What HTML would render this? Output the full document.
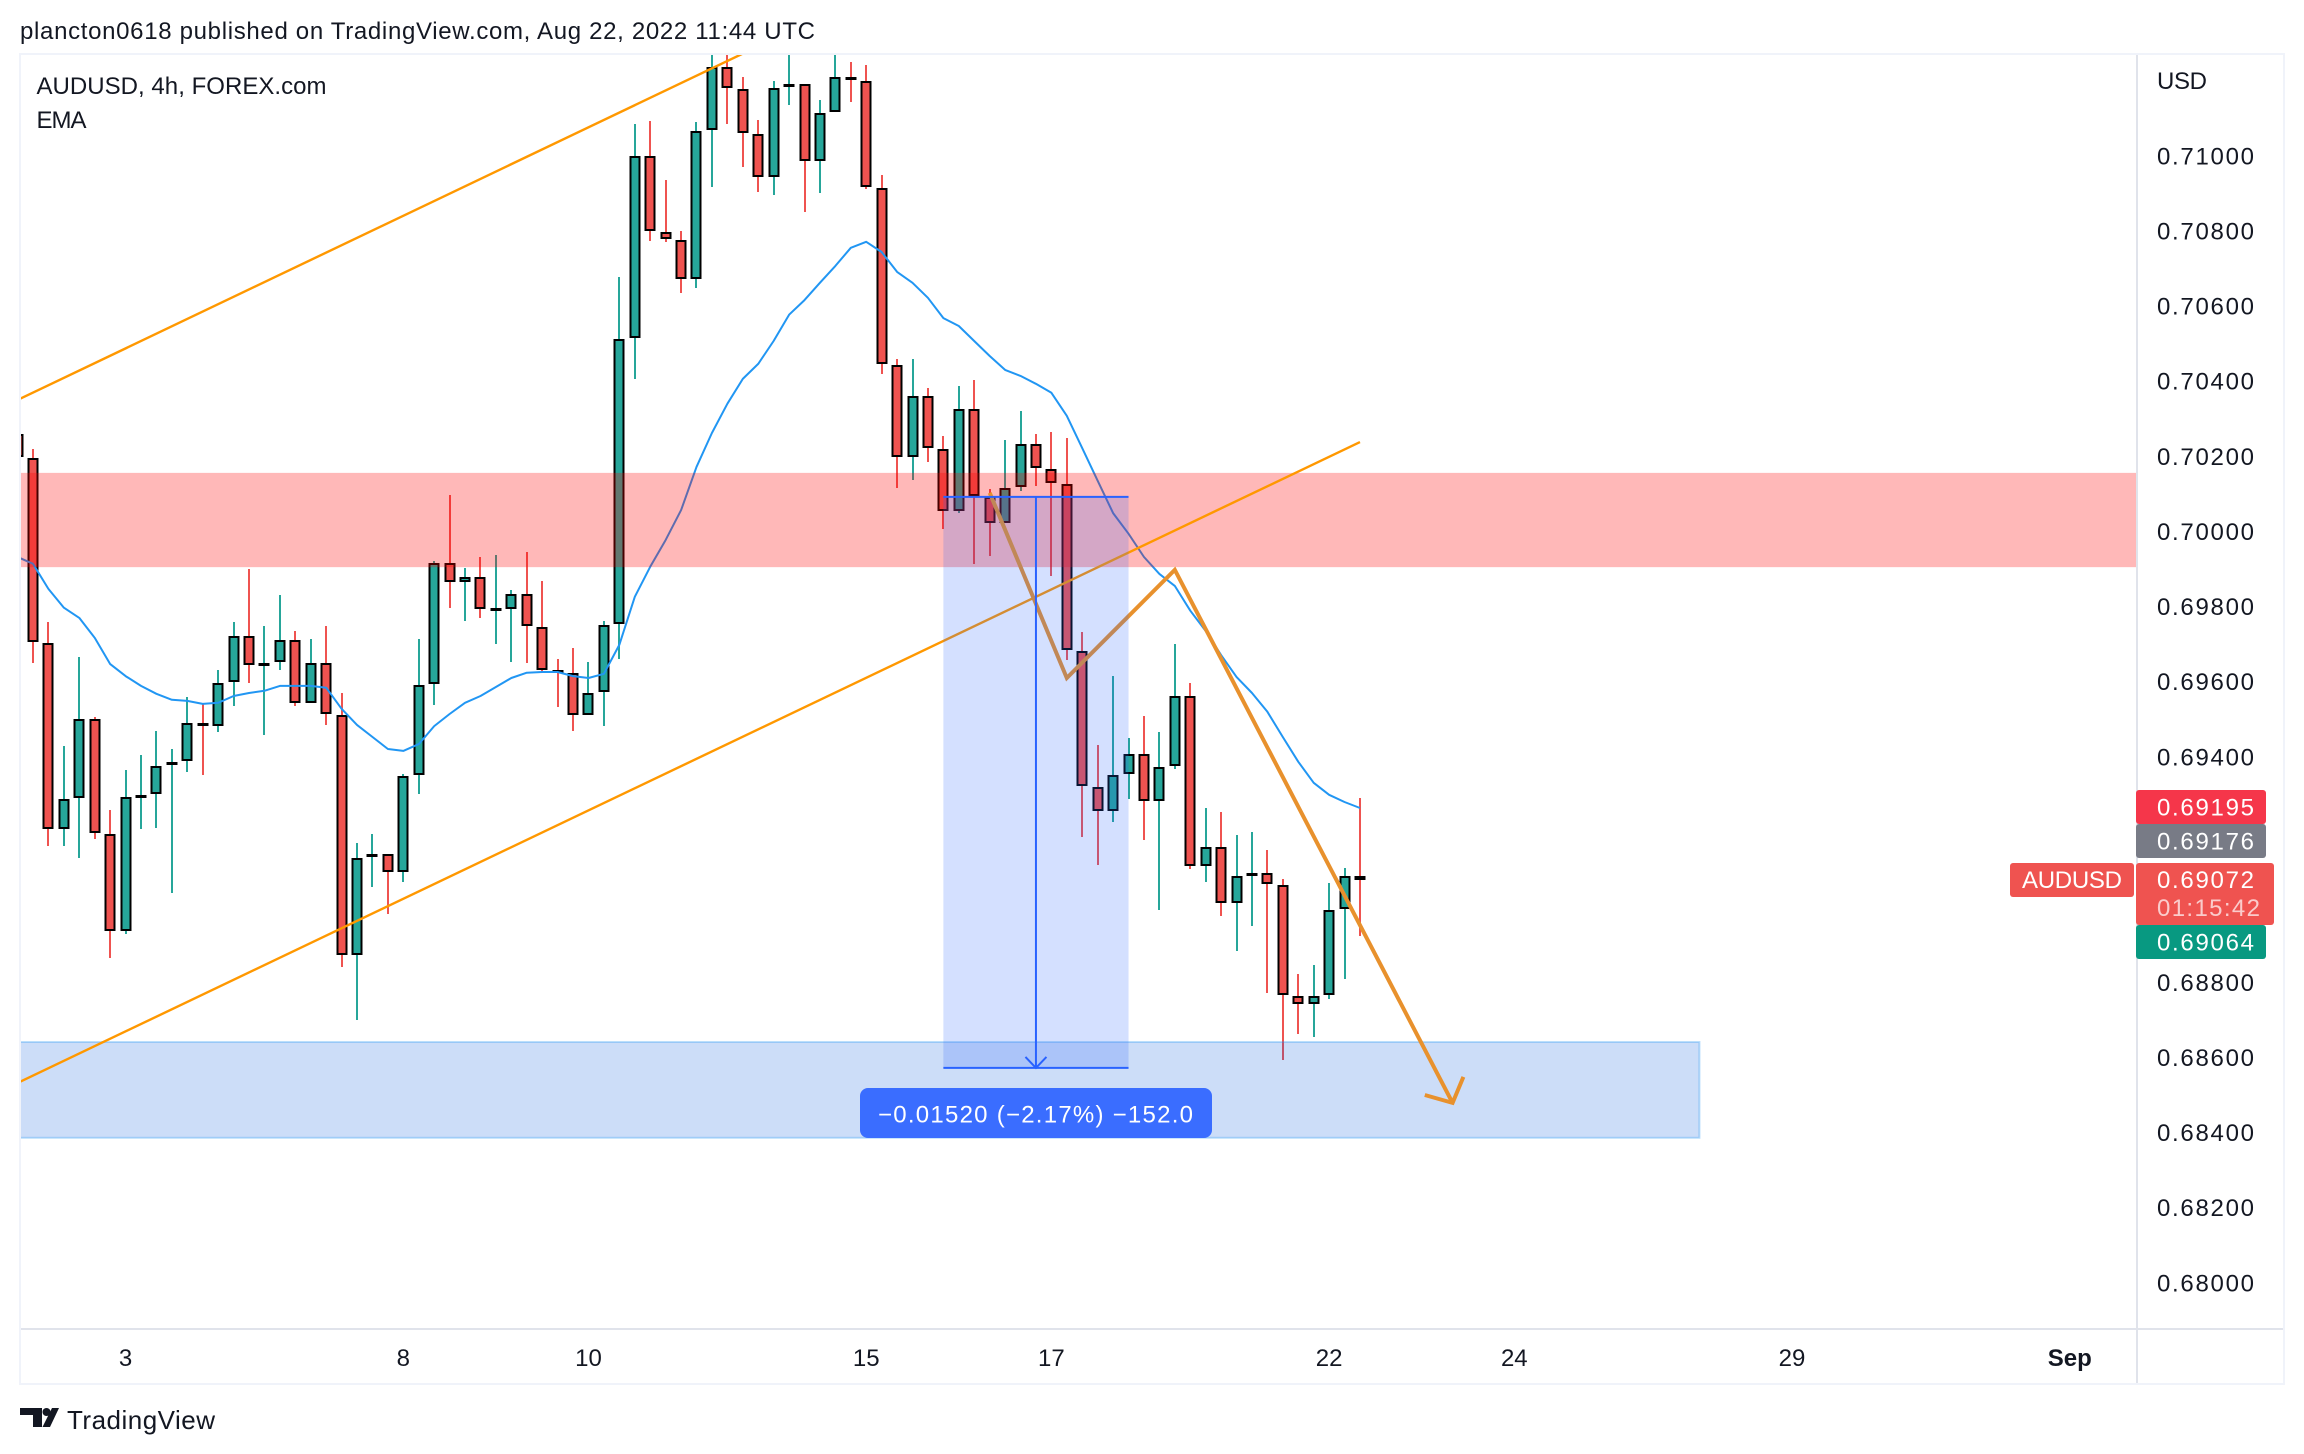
<!DOCTYPE html>
<html lang="en">
<head>
<meta charset="utf-8">
<title>AUDUSD 4h chart</title>
<style>
html,body{margin:0;padding:0;background:#fff;width:2304px;height:1454px;overflow:hidden}
svg{display:block}
text{font-family:"Liberation Sans",sans-serif;fill:#131722}
</style>
</head>
<body>
<svg id="chart" xmlns="http://www.w3.org/2000/svg" width="2304" height="1454" viewBox="0 0 2304 1454">
  <defs>
    <clipPath id="plot-clip"><rect x="21" y="55" width="2115" height="1273"/></clipPath>
  </defs>
  <rect x="0" y="0" width="2304" height="1454" fill="#ffffff"/>
  <text x="20" y="39" font-size="24" textLength="795" lengthAdjust="spacing">plancton0618 published on TradingView.com, Aug 22, 2022 11:44 UTC</text>
  <rect x="20" y="54" width="2264" height="1330" fill="#ffffff" stroke="#f0f3fa" stroke-width="2"/>
  <g id="plot" clip-path="url(#plot-clip)">
    <g id="candles"></g>
    <polyline id="ema" fill="none" stroke="#2196f3" stroke-width="2" stroke-linejoin="round"/>
    <rect id="resistance" fill="rgba(255,0,0,0.28)"/>
    <rect id="support" fill="rgba(0,85,220,0.2)" stroke="rgba(33,150,243,0.3)" stroke-width="2"/>
    <line id="trend-upper" stroke="#ff9800" stroke-width="2.4"/>
    <line id="trend-lower" stroke="#ff9800" stroke-width="2.4"/>
    <polyline id="path-main" fill="none" stroke="#e8912d" stroke-width="4" stroke-linejoin="miter"/>
    <polyline id="path-head" fill="none" stroke="#e8912d" stroke-width="4" stroke-linejoin="miter"/>
    <rect id="pos-box" fill="rgba(41,98,255,0.2)"/>
    <line id="pos-top" stroke="#2962ff" stroke-width="2"/>
    <line id="pos-bottom" stroke="#2962ff" stroke-width="2"/>
    <line id="pos-stem" stroke="#2962ff" stroke-width="2"/>
    <polyline id="pos-head" fill="none" stroke="#2962ff" stroke-width="2"/>
  </g>
  <g>
    <rect x="860" y="1088" width="352" height="50" rx="8" fill="#3a6dff"/>
    <text x="878" y="1122.5" font-size="24" textLength="315" lengthAdjust="spacing" style="fill:#ffffff">−0.01520 (−2.17%) −152.0</text>
  </g>
  <g>
    <text x="36.5" y="94" font-size="24" textLength="290" lengthAdjust="spacing">AUDUSD, 4h, FOREX.com</text>
    <text x="36.5" y="128" font-size="24" textLength="50" lengthAdjust="spacing">EMA</text>
  </g>
  <line x1="2137" y1="55" x2="2137" y2="1383" stroke="#e0e3eb" stroke-width="2"/>
  <line x1="21" y1="1329" x2="2283" y2="1329" stroke="#e0e3eb" stroke-width="2"/>
  <text x="2157" y="89" font-size="24" textLength="50" lengthAdjust="spacing">USD</text>
  <g id="price-ticks"></g>
  <g id="time-ticks"></g>
  <g>
    <rect x="2136" y="790" width="130" height="34" rx="3" fill="#f5364a"/>
    <text x="2157" y="815.5" font-size="24" textLength="97" lengthAdjust="spacing" style="fill:#ffffff">0.69195</text>
    <rect x="2136" y="824" width="130" height="34" rx="3" fill="#787b86"/>
    <text x="2157" y="849.5" font-size="24" textLength="97" lengthAdjust="spacing" style="fill:#ffffff">0.69176</text>
    <rect x="2136" y="863" width="138" height="62" rx="3" fill="#ef5350"/>
    <text x="2157" y="888" font-size="24" textLength="97" lengthAdjust="spacing" style="fill:#ffffff">0.69072</text>
    <text x="2157" y="916" font-size="24" textLength="103" lengthAdjust="spacing" style="fill:rgba(255,255,255,0.7)">01:15:42</text>
    <rect x="2136" y="925" width="130" height="34" rx="3" fill="#089981"/>
    <text x="2157" y="950.5" font-size="24" textLength="97" lengthAdjust="spacing" style="fill:#ffffff">0.69064</text>
    <rect x="2010" y="863" width="124" height="34" rx="3" fill="#ef5350"/>
    <text x="2022" y="888" font-size="24" textLength="100" lengthAdjust="spacing" style="fill:#ffffff">AUDUSD</text>
  </g>
  <g>
    <path fill="#131722" d="M20 1408H42V1427H33V1415H20Z M52 1408H59L50 1427H42.5Z"/>
    <circle cx="46.5" cy="1412" r="4" fill="#131722"/>
    <text x="67" y="1429" font-size="26" textLength="148" lengthAdjust="spacing">TradingView</text>
  </g>
</svg>
<script>
// Candle data; the first entry is bar -1, partly clipped at the left edge.
const firstBar = -1;
const opens = [0.70260,0.70196,0.69703,0.69208,0.69291,0.69501,0.69195,0.68937,0.69296,0.69301,0.69379,0.69389,0.69490,0.69482,0.69600,0.69722,0.69645,0.69653,0.69711,0.69544,0.69650,0.69512,0.68873,0.69134,0.69142,0.69094,0.69352,0.69594,0.69916,0.69866,0.69879,0.69791,0.69794,0.69834,0.69746,0.69632,0.69624,0.69512,0.69573,0.69754,0.70515,0.71000,0.70797,0.70776,0.70672,0.71069,0.71237,0.71178,0.71058,0.70944,0.71183,0.71191,0.70986,0.71117,0.71210,0.71199,0.70915,0.70443,0.70198,0.70361,0.70220,0.70055,0.70326,0.70092,0.70023,0.70119,0.70233,0.70167,0.70127,0.69682,0.69320,0.69256,0.69355,0.69408,0.69283,0.69376,0.69562,0.69110,0.69160,0.69011,0.69086,0.69091,0.69059,0.68764,0.68742,0.68766,0.68995,0.69083];
const highs = [0.70260,0.70220,0.69759,0.69429,0.69666,0.69506,0.69259,0.69365,0.69405,0.69469,0.69421,0.69560,0.69541,0.69632,0.69759,0.69900,0.69749,0.69831,0.69735,0.69714,0.69749,0.69570,0.69171,0.69195,0.69142,0.69355,0.69714,0.69922,0.70097,0.69903,0.69932,0.69938,0.69844,0.69946,0.69868,0.69661,0.69690,0.69653,0.69762,0.70678,0.71085,0.71093,0.70936,0.70800,0.71090,0.71282,0.71282,0.71210,0.71096,0.71199,0.71282,0.71191,0.71149,0.71282,0.71250,0.71242,0.70949,0.70459,0.70459,0.70382,0.70254,0.70387,0.70403,0.70113,0.70244,0.70321,0.70260,0.70265,0.70249,0.69733,0.69432,0.69615,0.69450,0.69509,0.69466,0.69701,0.69597,0.69264,0.69254,0.69192,0.69200,0.69152,0.69075,0.68822,0.68846,0.69064,0.69104,0.69291];
const lows = [0.70198,0.69650,0.69163,0.69163,0.69131,0.69182,0.68865,0.68929,0.69208,0.69211,0.69038,0.69360,0.69352,0.69466,0.69536,0.69597,0.69458,0.69632,0.69536,0.69544,0.69485,0.68841,0.68700,0.69054,0.68982,0.69067,0.69301,0.69538,0.69797,0.69762,0.69770,0.69701,0.69653,0.69650,0.69624,0.69533,0.69469,0.69512,0.69482,0.69661,0.70406,0.70774,0.70771,0.70635,0.70648,0.70917,0.71085,0.70970,0.70904,0.70896,0.71135,0.70851,0.70901,0.71117,0.71143,0.70912,0.70419,0.70116,0.70137,0.70185,0.70007,0.70049,0.69914,0.69935,0.70023,0.70108,0.70121,0.69882,0.69658,0.69187,0.69112,0.69227,0.69288,0.69179,0.68993,0.69368,0.69102,0.69067,0.68977,0.68883,0.68950,0.68772,0.68593,0.68662,0.68654,0.68756,0.68809,0.68923];
const closes = [0.70198,0.69706,0.69208,0.69288,0.69501,0.69198,0.68937,0.69293,0.69299,0.69376,0.69387,0.69490,0.69482,0.69597,0.69722,0.69645,0.69650,0.69711,0.69544,0.69650,0.69514,0.68873,0.69131,0.69142,0.69094,0.69349,0.69592,0.69916,0.69866,0.69879,0.69794,0.69797,0.69834,0.69749,0.69632,0.69626,0.69512,0.69570,0.69751,0.70513,0.71000,0.70800,0.70779,0.70672,0.71066,0.71237,0.71181,0.71061,0.70944,0.71181,0.71191,0.70986,0.71114,0.71210,0.71202,0.70917,0.70446,0.70198,0.70361,0.70222,0.70055,0.70326,0.70095,0.70023,0.70116,0.70233,0.70169,0.70129,0.69685,0.69323,0.69256,0.69352,0.69408,0.69283,0.69373,0.69562,0.69110,0.69160,0.69011,0.69083,0.69091,0.69062,0.68766,0.68742,0.68764,0.68993,0.69083,0.69072];
const emaValues = [0.69932,0.69914,0.69847,0.69797,0.69770,0.69717,0.69647,0.69615,0.69589,0.69568,0.69552,0.69549,0.69541,0.69544,0.69562,0.69570,0.69576,0.69589,0.69589,0.69589,0.69584,0.69528,0.69485,0.69453,0.69421,0.69416,0.69434,0.69482,0.69514,0.69544,0.69562,0.69586,0.69610,0.69624,0.69626,0.69626,0.69615,0.69610,0.69621,0.69698,0.69826,0.69906,0.69977,0.70057,0.70172,0.70262,0.70340,0.70406,0.70446,0.70507,0.70577,0.70616,0.70662,0.70707,0.70755,0.70771,0.70744,0.70691,0.70662,0.70622,0.70568,0.70547,0.70507,0.70467,0.70430,0.70414,0.70393,0.70369,0.70308,0.70222,0.70135,0.70049,0.69994,0.69932,0.69887,0.69855,0.69789,0.69735,0.69671,0.69613,0.69570,0.69520,0.69453,0.69387,0.69331,0.69299,0.69280,0.69264];
const priceTicks = [0.71,0.708,0.706,0.704,0.702,0.70,0.698,0.696,0.694,0.692,0.69,0.688,0.686,0.684,0.682,0.68];
const timeTickBars = [6,24,36,54,66,84,96,114,132];
const timeTickLabels = ["3","8","10","15","17","22","24","29","Sep"];
// Drawing anchors, as bar index and price.
const resistancePrices = [0.70156,0.69905];
const supportPrices = [0.68641,0.68386];
const supportBars = [-1.3,108.0];
const upperTrendBars = [-1,46];
const upperTrendPrices = [0.70350,0.71272];
const lowerTrendBars = [-1,86];
const lowerTrendPrices = [0.68532,0.70238];
const pathBars = [62,67,74,92];
const pathPrices = [0.70103,0.69610,0.69898,0.68479];
const headBars = [90.2,92,92.7];
const headPrices = [0.68500,0.68479,0.68548];
const rangeBars = [59,71,65];
const rangePrices = [0.70092,0.68572];

const svgNS = "http://www.w3.org/2000/svg";
function xScale(bar){ return 33 + 15.43 * bar; }
function yScale(price){ return 155.8 + (0.71 - price) * 37567; }
function pointsOf(bars, prices){
  return bars.map(function(b,i){ return xScale(b).toFixed(1) + "," + yScale(prices[i]).toFixed(1); }).join(" ");
}
function setRect(el, x, y, w, h){
  el.setAttribute("x", x); el.setAttribute("y", y);
  el.setAttribute("width", w); el.setAttribute("height", h);
}
function setLine(el, x1, y1, x2, y2){
  el.setAttribute("x1", x1); el.setAttribute("y1", y1);
  el.setAttribute("x2", x2); el.setAttribute("y2", y2);
}

const candleGroup = document.getElementById("candles");
opens.forEach(function(open, i){
  const bar = firstBar + i;
  const cx = Math.round(xScale(bar));
  const close = closes[i];
  const color = close >= open ? "#26a69a" : "#ef5350";
  const top = Math.round(yScale(Math.max(open, close)));
  const bottom = Math.round(yScale(Math.min(open, close)));
  const hi = Math.round(yScale(highs[i]));
  const lo = Math.round(yScale(lows[i]));

  const wick = document.createElementNS(svgNS, "rect");
  
  
  setRect(wick, cx - 1, hi, 2, Math.max(lo - hi, 1));
  wick.setAttribute("fill", color);
  candleGroup.appendChild(wick);

  const outline = document.createElementNS(svgNS, "rect");
  
  
  setRect(outline, cx - 5.5, top, 11, Math.max(bottom - top, 3));
  outline.setAttribute("fill", "#000000");
  candleGroup.appendChild(outline);

  if (bottom - top > 4) {
    const body = document.createElementNS(svgNS, "rect");
    
    
    setRect(body, cx - 3.5, top + 2, 7, bottom - top - 4);
    body.setAttribute("fill", color);
    candleGroup.appendChild(body);
  }
});

document.getElementById("ema").setAttribute("points",
  emaValues.map(function(v,i){ return xScale(firstBar + i).toFixed(1) + "," + yScale(v).toFixed(1); }).join(" "));

const res = document.getElementById("resistance");
setRect(res, 20, yScale(resistancePrices[0]), 2116, yScale(resistancePrices[1]) - yScale(resistancePrices[0]));
const sup = document.getElementById("support");
setRect(sup, xScale(supportBars[0]), yScale(supportPrices[0]), xScale(supportBars[1]) - xScale(supportBars[0]), yScale(supportPrices[1]) - yScale(supportPrices[0]));

setLine(document.getElementById("trend-upper"), xScale(upperTrendBars[0]), yScale(upperTrendPrices[0]), xScale(upperTrendBars[1]), yScale(upperTrendPrices[1]));
setLine(document.getElementById("trend-lower"), xScale(lowerTrendBars[0]), yScale(lowerTrendPrices[0]), xScale(lowerTrendBars[1]), yScale(lowerTrendPrices[1]));
document.getElementById("path-main").setAttribute("points", pointsOf(pathBars, pathPrices));
document.getElementById("path-head").setAttribute("points", pointsOf(headBars, headPrices));

const rx0 = xScale(rangeBars[0]), rx1 = xScale(rangeBars[1]), rxm = xScale(rangeBars[2]);
const ry0 = yScale(rangePrices[0]), ry1 = yScale(rangePrices[1]);
setRect(document.getElementById("pos-box"), rx0, ry0, rx1 - rx0, ry1 - ry0);
setLine(document.getElementById("pos-top"), rx0, ry0, rx1, ry0);
setLine(document.getElementById("pos-bottom"), rx0, ry1, rx1, ry1);
setLine(document.getElementById("pos-stem"), rxm, ry0, rxm, ry1);
document.getElementById("pos-head").setAttribute("points",
  (rxm - 10.5) + "," + (ry1 - 11) + " " + rxm + "," + ry1 + " " + (rxm + 10.5) + "," + (ry1 - 11));

const priceGroup = document.getElementById("price-ticks");
priceTicks.forEach(function(p){
  const t = document.createElementNS(svgNS, "text");
  
  
  t.setAttribute("x", 2157);
  t.setAttribute("y", (yScale(p) + 8.5).toFixed(1));
  t.setAttribute("font-size", 24);
  t.setAttribute("textLength", 97);
  t.setAttribute("lengthAdjust", "spacing");
  t.textContent = p.toFixed(5);
  priceGroup.appendChild(t);
});

const timeGroup = document.getElementById("time-ticks");
timeTickBars.forEach(function(b, i){
  const t = document.createElementNS(svgNS, "text");
  
  
  t.setAttribute("x", xScale(b).toFixed(1));
  t.setAttribute("y", 1366);
  t.setAttribute("font-size", 24);
  t.setAttribute("text-anchor", "middle");
  if (timeTickLabels[i] === "Sep") { t.setAttribute("font-weight", "bold"); }
  t.textContent = timeTickLabels[i];
  timeGroup.appendChild(t);
});
</script>
</body>
</html>
